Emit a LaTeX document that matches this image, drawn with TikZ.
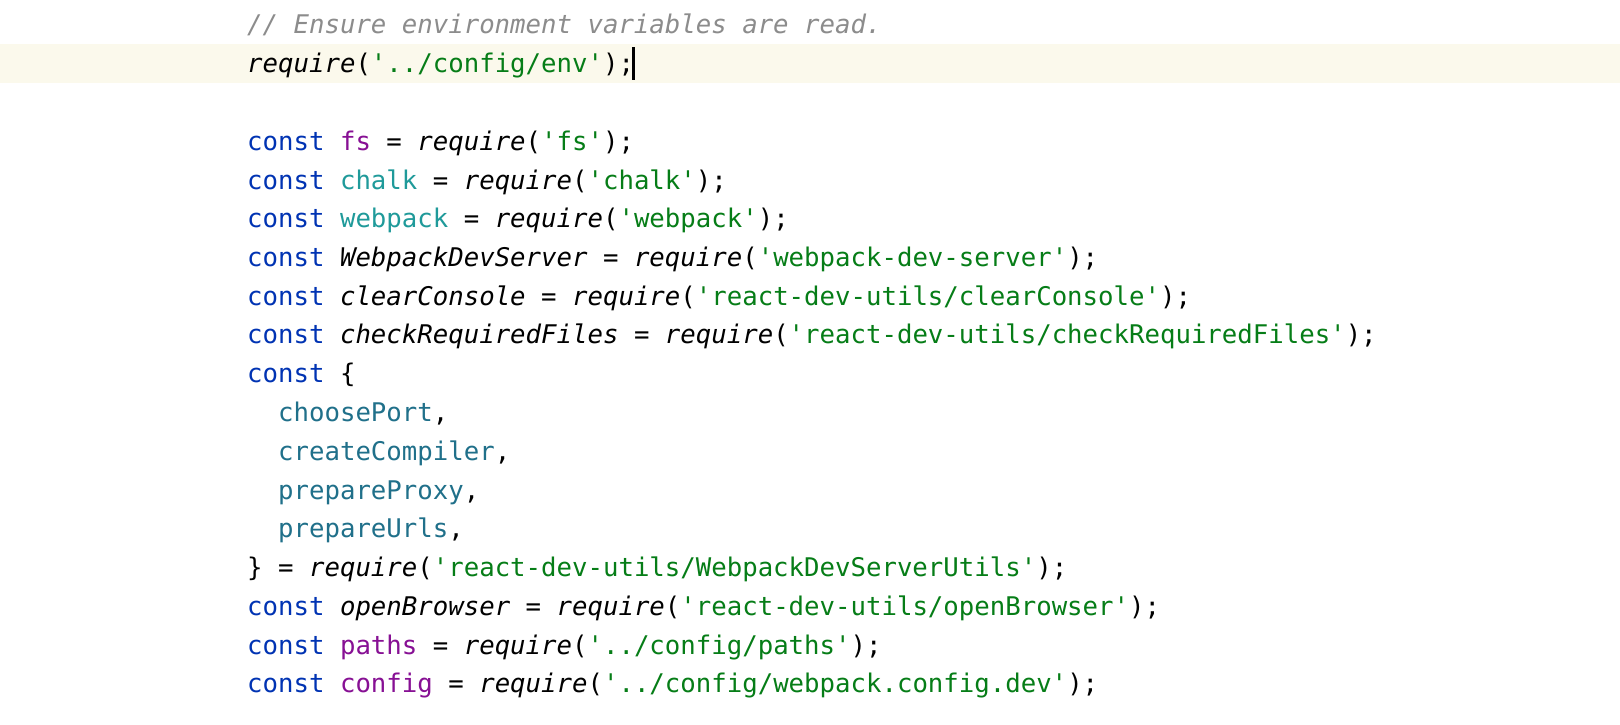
\documentclass[tikz,border=0pt]{standalone}
\usepackage{fontspec}
\setmonofont{DejaVu Sans Mono}
\definecolor{kwblue}{HTML}{0033B3}
\definecolor{strgreen}{HTML}{067D17}
\definecolor{cmtgray}{HTML}{8C8C8C}
\definecolor{varpurple}{HTML}{871094}
\definecolor{modteal}{HTML}{1F9A9A}
\definecolor{propblue}{HTML}{20708A}
\definecolor{lineyellow}{HTML}{FBF9EC}
\newcommand{\kw}[1]{\textcolor{kwblue}{#1}}
\newcommand{\str}[1]{\textcolor{strgreen}{#1}}
\newcommand{\req}{\textit{require}}
\begin{document}
\begin{tikzpicture}[x=1pt,y=-1pt,
  codeline/.style={anchor=base west,inner sep=0pt,font=\fontsize{25.7}{30}\ttfamily}]
  \useasboundingbox[fill=white] (0,0) rectangle (1620,724);
  % current line
  \fill[lineyellow] (0,44) rectangle (1620,83);
  \node[codeline] (l1) at (247,33) {\textcolor{cmtgray}{\textit{// Ensure environment variables are read.}}};
  \node[codeline] (l2) at (247,72) {\req(\str{'../config/env'});};
  \fill[black] (632,47) rectangle (635,80);
  \node[codeline] (l3) at (247,150) {\kw{const} \textcolor{varpurple}{fs} = \req(\str{'fs'});};
  \node[codeline] (l4) at (247,189) {\kw{const} \textcolor{modteal}{chalk} = \req(\str{'chalk'});};
  \node[codeline] (l5) at (247,227) {\kw{const} \textcolor{modteal}{webpack} = \req(\str{'webpack'});};
  \node[codeline] (l6) at (247,266) {\kw{const} \textit{WebpackDevServer} = \req(\str{'webpack-dev-server'});};
  \node[codeline] (l7) at (247,305) {\kw{const} \textit{clearConsole} = \req(\str{'react-dev-utils/clearConsole'});};
  \node[codeline] (l8) at (247,343) {\kw{const} \textit{checkRequiredFiles} = \req(\str{'react-dev-utils/checkRequiredFiles'});};
  \node[codeline] (l9) at (247,382) {\kw{const} \{};
  \node[codeline] (l10) at (247,421) {\ \ \textcolor{propblue}{choosePort},};
  \node[codeline] (l11) at (247,460) {\ \ \textcolor{propblue}{createCompiler},};
  \node[codeline] (l12) at (247,499) {\ \ \textcolor{propblue}{prepareProxy},};
  \node[codeline] (l13) at (247,537) {\ \ \textcolor{propblue}{prepareUrls},};
  \node[codeline] (l14) at (247,576) {\} = \req(\str{'react-dev-utils/WebpackDevServerUtils'});};
  \node[codeline] (l15) at (247,615) {\kw{const} \textit{openBrowser} = \req(\str{'react-dev-utils/openBrowser'});};
  \node[codeline] (l16) at (247,654) {\kw{const} \textcolor{varpurple}{paths} = \req(\str{'../config/paths'});};
  \node[codeline] (l17) at (247,692) {\kw{const} \textcolor{varpurple}{config} = \req(\str{'../config/webpack.config.dev'});};
\end{tikzpicture}
\end{document}
